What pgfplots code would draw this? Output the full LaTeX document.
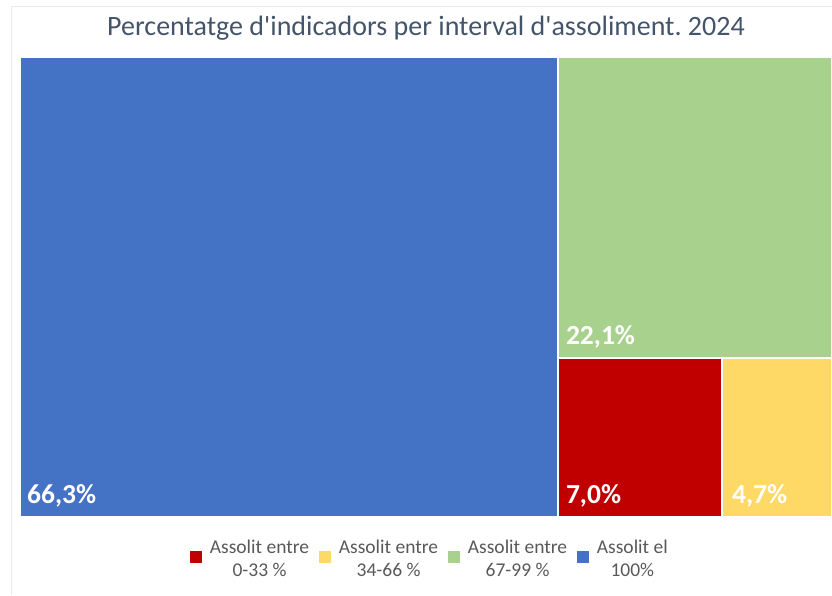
\documentclass[border=0pt]{standalone}
\usepackage{pgfplots}
\pgfplotsset{compat=1.18}
\usepackage{fontspec}
\setmainfont{Carlito}[Ligatures=TeXOff]
\frenchspacing

\definecolor{blau}{HTML}{4472C4}
\definecolor{verd}{HTML}{A9D18E}
\definecolor{vermell}{HTML}{C00000}
\definecolor{groc}{HTML}{FFD966}
\definecolor{titol}{HTML}{44546A}
\definecolor{llegenda}{HTML}{595959}

% percentatges
\def\vRed{7.0}
\def\vYel{4.7}
\def\vGre{22.1}
\def\vBlu{66.3}
% geometria del treemap (0..100 en x i y)
\pgfmathsetmacro\tot{\vRed+\vYel+\vGre+\vBlu}
\pgfmathsetmacro\xa{100*\vBlu/\tot}
\pgfmathsetmacro\yg{100*(\vRed+\vYel)/(\vRed+\vYel+\vGre)}
\pgfmathsetmacro\xr{\xa+(100-\xa)*\vRed/(\vRed+\vYel)}

\begin{document}
\begin{tikzpicture}
\path[use as bounding box] (0pt,0pt) rectangle (832pt,595pt);
\draw[black!8] (11pt,0pt) -- (11pt,589pt) -- (832pt,589pt);
\begin{axis}[
    at={(20pt,78pt)}, anchor=south west,
    scale only axis,
    width=812pt, height=460pt,
    xmin=0, xmax=100, ymin=0, ymax=100,
    hide axis,
    clip=false,
    title={Percentatge d\textquotesingle indicadors per interval d\textquotesingle assoliment. 2024},
    title style={at={(0.5,1)}, anchor=base, yshift=15pt, text=titol,
        font=\fontsize{28}{32}\selectfont},
    legend columns=4,
    legend image code/.code={\fill[#1, draw=none] (0pt,-4pt) rectangle (12pt,8pt);
        \path (17pt,0pt);},
    legend style={at={(0.5,0)}, anchor=north, xshift=4pt, yshift=-19pt,
        draw=none, fill=none,
        font=\fontsize{19.5}{23}\selectfont,
        cells={align=center, text=llegenda},
        /tikz/every even column/.append style={column sep=8pt}},
    every axis plot/.append style={draw=white, line width=1.5pt},
]
\addplot[fill=vermell] coordinates {(\xa,0) (\xr,0) (\xr,\yg) (\xa,\yg)} -- cycle;
\addlegendentry{Assolit entre\\0-33 \%}
\addplot[fill=groc] coordinates {(\xr,0) (100,0) (100,\yg) (\xr,\yg)} -- cycle;
\addlegendentry{Assolit entre\\34-66 \%}
\addplot[fill=verd] coordinates {(\xa,\yg) (100,\yg) (100,100) (\xa,100)} -- cycle;
\addlegendentry{Assolit entre\\67-99 \%}
\addplot[fill=blau] coordinates {(0,0) (\xa,0) (\xa,100) (0,100)} -- cycle;
\addlegendentry{Assolit el\\100\%}

\begin{scope}[every node/.style={anchor=base west, text=white,
    font=\bfseries\fontsize{27.5}{31}\selectfont, inner sep=0pt}]
\node at (axis cs:0,0) [xshift=7pt, yshift=14pt] {66,3\%};
\node at (axis cs:\xa,\yg) [xshift=8pt, yshift=13pt] {22,1\%};
\node at (axis cs:\xa,0) [xshift=8pt, yshift=14pt] {7,0\%};
\node at (axis cs:\xr,0) [xshift=10pt, yshift=14pt] {4,7\%};
\end{scope}
\end{axis}
\end{tikzpicture}
\end{document}
